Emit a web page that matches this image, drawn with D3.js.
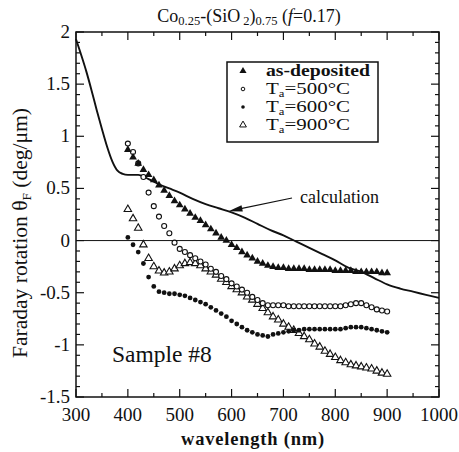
<!DOCTYPE html>
<html>
<head>
<meta charset="utf-8">
<script src="https://cdn.jsdelivr.net/npm/d3@7"></script>
<style>
  html, body { margin: 0; padding: 0; background: #fff; }
  svg { display: block; }
</style>
</head>
<body>
<svg id="chart" width="459" height="452" font-family="'Liberation Serif', 'Times New Roman', serif"></svg>
<script>
// ---------- data ----------
const wavelengths = [400,410,420,430,440,450,460,470,480,490,500,510,520,530,540,550,560,570,580,590,600,610,620,630,640,650,660,670,680,690,700,710,720,730,740,750,760,770,780,790,800,810,820,830,840,850,860,870,880,890,900];

const asDeposited = [0.87,0.80,0.74,0.68,0.63,0.58,0.53,0.48,0.43,0.38,0.34,0.30,0.26,0.22,0.19,0.15,0.11,0.07,0.03,0.00,-0.04,-0.07,-0.11,-0.14,-0.17,-0.20,-0.22,-0.24,-0.25,-0.26,-0.26,-0.27,-0.27,-0.27,-0.27,-0.28,-0.28,-0.28,-0.28,-0.28,-0.29,-0.29,-0.29,-0.29,-0.30,-0.30,-0.30,-0.30,-0.30,-0.31,-0.31];

const ta500 = [0.93,0.85,0.74,0.61,0.46,0.33,0.23,0.14,0.07,-0.02,-0.08,-0.11,-0.14,-0.17,-0.20,-0.23,-0.27,-0.30,-0.34,-0.37,-0.41,-0.44,-0.47,-0.50,-0.54,-0.57,-0.60,-0.62,-0.62,-0.62,-0.62,-0.63,-0.63,-0.63,-0.63,-0.63,-0.63,-0.63,-0.63,-0.63,-0.63,-0.63,-0.62,-0.61,-0.60,-0.60,-0.62,-0.64,-0.66,-0.67,-0.68];

const ta600 = [0.03,-0.04,-0.11,-0.22,-0.35,-0.44,-0.49,-0.50,-0.51,-0.51,-0.52,-0.53,-0.55,-0.57,-0.59,-0.61,-0.64,-0.67,-0.70,-0.73,-0.77,-0.80,-0.83,-0.86,-0.88,-0.90,-0.91,-0.92,-0.90,-0.89,-0.88,-0.87,-0.86,-0.86,-0.85,-0.85,-0.85,-0.85,-0.85,-0.85,-0.85,-0.85,-0.84,-0.83,-0.83,-0.83,-0.84,-0.85,-0.86,-0.87,-0.88];

const ta900 = [0.30,0.21,0.12,-0.04,-0.17,-0.25,-0.29,-0.31,-0.30,-0.27,-0.24,-0.22,-0.21,-0.22,-0.24,-0.27,-0.30,-0.33,-0.37,-0.40,-0.44,-0.47,-0.50,-0.54,-0.57,-0.61,-0.65,-0.69,-0.73,-0.76,-0.80,-0.83,-0.86,-0.89,-0.92,-0.95,-0.99,-1.02,-1.06,-1.09,-1.12,-1.15,-1.17,-1.19,-1.20,-1.21,-1.22,-1.23,-1.25,-1.27,-1.28];

const calcWavelengths = [300,310,320,330,340,350,360,370,380,390,400,420,440,460,480,500,525,550,575,600,625,650,675,700,725,750,775,800,825,850,875,900,925,950,975,1000];
const calcValues = [1.93,1.78,1.62,1.44,1.25,1.07,0.90,0.76,0.67,0.64,0.63,0.63,0.59,0.54,0.50,0.46,0.40,0.35,0.31,0.27,0.22,0.16,0.10,0.05,-0.01,-0.07,-0.13,-0.19,-0.26,-0.30,-0.36,-0.42,-0.46,-0.49,-0.52,-0.55];

const xTickValues = [300,400,500,600,700,800,900,1000];
const xTickLabels = ["300","400","500","600","700","800","900","1000"];
const yTickValues = [2,1.5,1,0.5,0,-0.5,-1,-1.5];
const yTickLabels = ["2","1.5","1","0.5","0","-0.5","-1","-1.5"];

const seriesNames = ["as-deposited","500°C","600°C","900°C"];

// ---------- layout ----------
const svg = d3.select("#chart");
const INK = "#111";
const L = 76, R = 439, T = 32, B = 397;
const x = d3.scaleLinear().domain([300,1000]).range([L,R]);
const y = d3.scaleLinear().domain([-1.5,2]).range([B,T]);

// ticks (inward, all four sides)
const g = svg.append("g");
const xMinor = d3.range(300,1001,50);
const yMinor = d3.range(-15,21,1).map(v=>v/10);
function isMajorX(v){ return v % 100 === 0; }
function isMajorY(v){ return Math.abs(v*2 - Math.round(v*2)) < 1e-6; }
xMinor.forEach(v=>{
  const len = isMajorX(v) ? 8 : 4;
  g.append("line").attr("x1",x(v)).attr("x2",x(v)).attr("y1",B).attr("y2",B-len).attr("stroke",INK).attr("stroke-width",1.2);
  g.append("line").attr("x1",x(v)).attr("x2",x(v)).attr("y1",T).attr("y2",T+len).attr("stroke",INK).attr("stroke-width",1.2);
});
yMinor.forEach(v=>{
  const len = isMajorY(v) ? 8 : 4;
  g.append("line").attr("x1",L).attr("x2",L+len).attr("y1",y(v)).attr("y2",y(v)).attr("stroke",INK).attr("stroke-width",1.2);
  g.append("line").attr("x1",R).attr("x2",R-len).attr("y1",y(v)).attr("y2",y(v)).attr("stroke",INK).attr("stroke-width",1.2);
});

// frame
svg.append("rect").attr("x",L).attr("y",T).attr("width",R-L).attr("height",B-T)
  .attr("fill","none").attr("stroke",INK).attr("stroke-width",1.5);

// zero line
svg.append("line").attr("x1",L).attr("x2",R).attr("y1",y(0)).attr("y2",y(0))
  .attr("stroke",INK).attr("stroke-width",1);

// tick labels
xTickValues.forEach((v,i)=>{
  svg.append("text").attr("x",x(v)).attr("y",421).attr("text-anchor","middle")
    .attr("font-size",19).attr("fill",INK).text(xTickLabels[i]);
});
yTickValues.forEach((v,i)=>{
  svg.append("text").attr("x",70).attr("y",y(v)+6).attr("text-anchor","end")
    .attr("font-size",19).attr("fill",INK).text(yTickLabels[i]);
});

// axis titles
svg.append("text").attr("x",253).attr("y",445).attr("text-anchor","middle")
  .attr("font-size",18.5).attr("font-weight","bold").attr("letter-spacing",0.8).attr("fill",INK).text("wavelength (nm)");
const yl = svg.append("text").attr("transform","translate(27,233) rotate(-90)")
  .attr("text-anchor","middle").attr("font-size",21).attr("fill",INK)
  .attr("textLength",250).attr("lengthAdjust","spacingAndGlyphs");
yl.append("tspan").text("Faraday rotation θ");
yl.append("tspan").attr("font-size",13).attr("dy",4).text("F");
yl.append("tspan").attr("dy",-4).text(" (deg/μm)");

// title
const tt = svg.append("text").attr("x",249).attr("y",22).attr("text-anchor","middle").attr("font-size",18).attr("fill",INK);
tt.append("tspan").text("Co");
tt.append("tspan").attr("font-size",12.5).attr("dy",3).text("0.25");
tt.append("tspan").attr("dy",-3).text("-(SiO");
tt.append("tspan").attr("font-size",12.5).attr("dy",3).text(" 2");
tt.append("tspan").attr("dy",-3).text(")");
tt.append("tspan").attr("font-size",12.5).attr("dy",3).text("0.75");
tt.append("tspan").attr("dy",-3).text(" (");
tt.append("tspan").attr("font-style","italic").text("f");
tt.append("tspan").text("=0.17)");

// calculation curve
const calc = calcWavelengths.map((w,i)=>[w,calcValues[i]]);
svg.append("path").datum(calc)
  .attr("d", d3.line().x(d=>x(d[0])).y(d=>y(d[1])).curve(d3.curveMonotoneX))
  .attr("fill","none").attr("stroke",INK).attr("stroke-width",1.9);

// markers
const triUp = d3.symbol().type(d3.symbolTriangle);
function drawSeries(vals, kind){
  const pts = wavelengths.map((w,i)=>[w,vals[i]]);
  const gg = svg.append("g");
  pts.forEach(p=>{
    const cx = x(p[0]), cy = y(p[1]);
    if (kind === "filledTri") {
      gg.append("path").attr("d", triUp.size(26)()).attr("transform",`translate(${cx},${cy})`).attr("fill",INK);
    } else if (kind === "openTri") {
      gg.append("path").attr("d", triUp.size(24)()).attr("transform",`translate(${cx},${cy})`)
        .attr("fill","#fff").attr("stroke",INK).attr("stroke-width",1.1);
    } else if (kind === "openCirc") {
      gg.append("circle").attr("cx",cx).attr("cy",cy).attr("r",2.5)
        .attr("fill","#fff").attr("stroke",INK).attr("stroke-width",1.1);
    } else {
      gg.append("circle").attr("cx",cx).attr("cy",cy).attr("r",2.4).attr("fill",INK);
    }
  });
}
drawSeries(ta900, "openTri");
drawSeries(ta500, "openCirc");
drawSeries(ta600, "filledCirc");
drawSeries(asDeposited, "filledTri");

// arrow + label
const ax1 = 292, ay1 = 198, ax2 = x(594), ay2 = y(0.28);
svg.append("line").attr("x1",ax1).attr("y1",ay1).attr("x2",ax2+10).attr("y2",ay2-2.2)
  .attr("stroke",INK).attr("stroke-width",1.2);
{
  const ang = Math.atan2(ay1-ay2, ax1-ax2);
  const len = 14, w = 3.2;
  const bx = ax2 + len*Math.cos(ang), by = ay2 + len*Math.sin(ang);
  const px = -Math.sin(ang)*w, py = Math.cos(ang)*w;
  svg.append("path").attr("d",`M${ax2},${ay2}L${bx+px},${by+py}L${bx-px},${by-py}Z`).attr("fill",INK);
}
svg.append("text").attr("x",300).attr("y",203).attr("font-size",18).attr("fill",INK).text("calculation");

// Sample label
svg.append("text").attr("x",112).attr("y",362).attr("font-size",23.5).attr("fill",INK).text("Sample #8");

// legend
svg.append("rect").attr("x",227).attr("y",62).attr("width",151).attr("height",80)
  .attr("fill","#fff").attr("stroke",INK).attr("stroke-width",1.5);
const legRows = [71, 89, 107, 125];
const legKinds = ["filledTri","openCirc","filledCirc","openTri"];
const legWidths = [104, 84, 84, 84];
legKinds.forEach((k,i)=>{
  const cx = 243, cy = legRows[i];
  if (k==="filledTri") svg.append("path").attr("d",triUp.size(22)()).attr("transform",`translate(${cx},${cy})`).attr("fill",INK);
  if (k==="openCirc") svg.append("circle").attr("cx",cx).attr("cy",cy).attr("r",1.8).attr("fill","#fff").attr("stroke",INK).attr("stroke-width",1);
  if (k==="filledCirc") svg.append("circle").attr("cx",cx).attr("cy",cy).attr("r",1.8).attr("fill",INK);
  if (k==="openTri") svg.append("path").attr("d",triUp.size(20)()).attr("transform",`translate(${cx},${cy})`).attr("fill","#fff").attr("stroke",INK).attr("stroke-width",1);
  const t = svg.append("text").attr("x",266).attr("y",cy+5).attr("font-size", 16.5).attr("fill",INK)
    .attr("textLength", legWidths[i]).attr("lengthAdjust","spacingAndGlyphs");
  if (i===0) { t.attr("font-weight","bold").text(seriesNames[0]); }
  else {
    t.append("tspan").text("T");
    t.append("tspan").attr("font-size",10).attr("dy",3).text("a");
    t.append("tspan").attr("dy",-3).text("=" + seriesNames[i]);
  }
});
</script>
</body>
</html>
